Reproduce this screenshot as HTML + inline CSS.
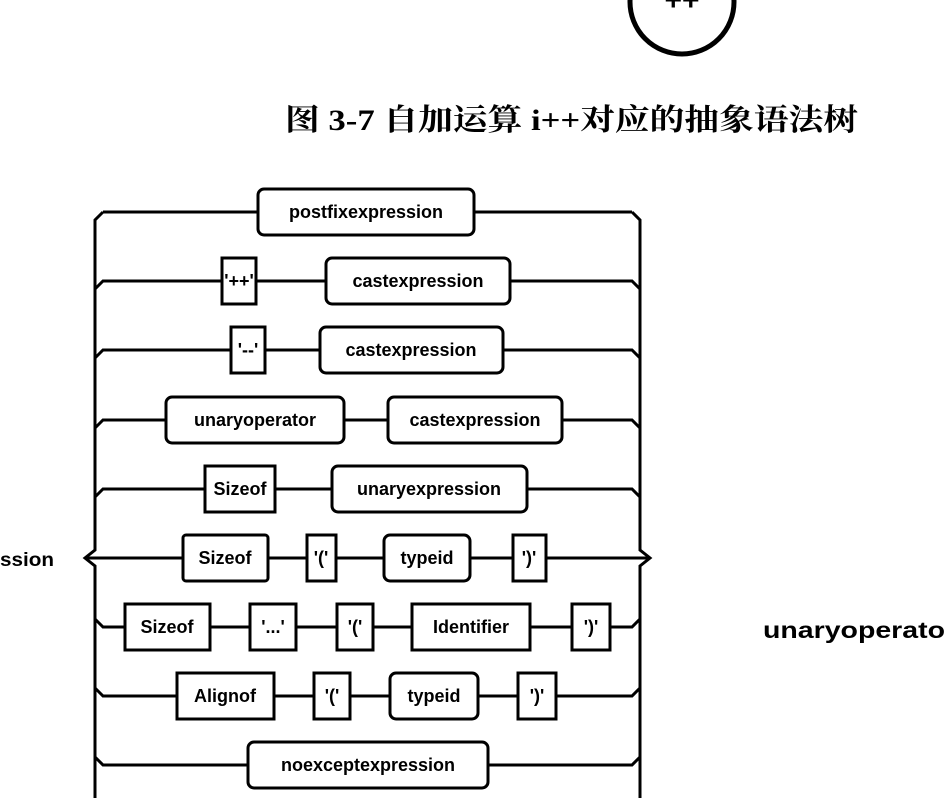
<!DOCTYPE html>
<html><head><meta charset="utf-8"><style>
html,body{margin:0;padding:0;background:#fff;}
svg text{font-family:"Liberation Sans",sans-serif;font-weight:bold;fill:#000;}
</style></head><body>
<svg width="945" height="798" viewBox="0 0 945 798" xmlns="http://www.w3.org/2000/svg">
<circle cx="682" cy="2" r="52" fill="none" stroke="#000" stroke-width="5"/>
<text x="682" y="10" font-size="30" text-anchor="middle">++</text>
<text x="285" y="130" font-size="30" textLength="573" lengthAdjust="spacingAndGlyphs" style="font-family:'Liberation Serif','Noto Serif CJK SC',serif;font-weight:bold">图 3-7 自加运算 i++对应的抽象语法树</text>
<text x="0" y="566" font-size="19" textLength="54" lengthAdjust="spacingAndGlyphs">ssion</text>
<text x="763" y="638" font-size="23" textLength="182" lengthAdjust="spacingAndGlyphs">unaryoperato</text>
<g fill="none" stroke="#000" stroke-width="3">
<!-- rails -->
<path d="M95 798 V566 L85 558 L95 550 V220 L103 212"/>
<path d="M640 798 V566 L650 558 L640 550 V220 L632 212"/>
<!-- row lines -->
<path d="M103 212 H632"/>
<path d="M95 289 L103 281 H632 L640 289"/>
<path d="M95 358 L103 350 H632 L640 358"/>
<path d="M95 428 L103 420 H632 L640 428"/>
<path d="M95 497 L103 489 H632 L640 497"/>
<path d="M85 558 H650"/>
<path d="M95 619 L103 627 H632 L640 619"/>
<path d="M95 688 L103 696 H632 L640 688"/>
<path d="M95 757 L103 765 H632 L640 757"/>
</g>
<g fill="#fff" stroke="#000" stroke-width="3">
<rect x="258" y="189" width="216" height="46" rx="6"/>
<rect x="222" y="258" width="34" height="46"/>
<rect x="326" y="258" width="184" height="46" rx="6"/>
<rect x="231" y="327" width="34" height="46"/>
<rect x="320" y="327" width="183" height="46" rx="6"/>
<rect x="166" y="397" width="178" height="46" rx="6"/>
<rect x="388" y="397" width="174" height="46" rx="6"/>
<rect x="205" y="466" width="70" height="46"/>
<rect x="332" y="466" width="195" height="46" rx="6"/>
<rect x="183" y="535" width="85" height="46" rx="3"/>
<rect x="307" y="535" width="29" height="46"/>
<rect x="384" y="535" width="86" height="46" rx="6"/>
<rect x="513" y="535" width="33" height="46"/>
<rect x="125" y="604" width="85" height="46"/>
<rect x="250" y="604" width="46" height="46"/>
<rect x="337" y="604" width="36" height="46"/>
<rect x="412" y="604" width="118" height="46"/>
<rect x="572" y="604" width="38" height="46"/>
<rect x="177" y="673" width="97" height="46"/>
<rect x="314" y="673" width="36" height="46"/>
<rect x="390" y="673" width="88" height="46" rx="6"/>
<rect x="518" y="673" width="38" height="46"/>
<rect x="248" y="742" width="240" height="46" rx="6"/>
</g>
<g font-size="18" text-anchor="middle">
<text x="366" y="218">postfixexpression</text>
<text x="239" y="287">'++'</text>
<text x="418" y="287">castexpression</text>
<text x="248" y="356">'--'</text>
<text x="411" y="356">castexpression</text>
<text x="255" y="426">unaryoperator</text>
<text x="475" y="426">castexpression</text>
<text x="240" y="495">Sizeof</text>
<text x="429" y="495">unaryexpression</text>
<text x="225" y="564">Sizeof</text>
<text x="321" y="564">'('</text>
<text x="427" y="564">typeid</text>
<text x="529" y="564">')'</text>
<text x="167" y="633">Sizeof</text>
<text x="273" y="633">'...'</text>
<text x="355" y="633">'('</text>
<text x="471" y="633">Identifier</text>
<text x="591" y="633">')'</text>
<text x="225" y="702">Alignof</text>
<text x="332" y="702">'('</text>
<text x="434" y="702">typeid</text>
<text x="537" y="702">')'</text>
<text x="368" y="771">noexceptexpression</text>
</g>
</svg>
</body></html>
